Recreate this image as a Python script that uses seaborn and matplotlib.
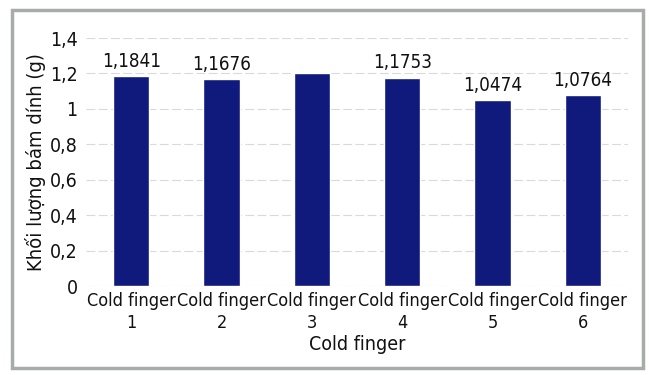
import matplotlib
matplotlib.use("Agg")
import matplotlib.pyplot as plt
import matplotlib.patches as mpatches
import seaborn as sns
import pandas as pd

categories = ["Cold finger\n1", "Cold finger\n2", "Cold finger\n3",
              "Cold finger\n4", "Cold finger\n5", "Cold finger\n6"]
values = [1.1841, 1.1676, 1.2, 1.1753, 1.0474, 1.0764]
value_labels = ["1,1841", "1,1676", "", "1,1753", "1,0474", "1,0764"]
y_ticks = [0, 0.2, 0.4, 0.6, 0.8, 1.0, 1.2, 1.4]
y_tick_labels = ["0", "0,2", "0,4", "0,6", "0,8", "1", "1,2", "1,4"]

sns.set_style("white")
plt.rcParams["font.family"] = ["DejaVu Sans"]
plt.rcParams["font.stretch"] = "condensed"

df = pd.DataFrame({"cat": categories, "val": values})

fig = plt.figure(figsize=(6.49, 3.75), dpi=100)
ax = fig.add_axes([86 / 649, 1 - 286 / 375, (628 - 86) / 649, (286 - 38) / 375])

sns.barplot(data=df, x="cat", y="val", color="#0f1a7c", width=0.4,
            saturation=1, ax=ax, zorder=3)

for bar, lab in zip(ax.patches, value_labels):
    if lab:
        ax.text(bar.get_x() + bar.get_width() / 2, bar.get_height() + 0.03, lab,
                ha="center", va="bottom", fontsize=13.5, color="#111111")

ax.set_ylim(0, 1.4)
ax.set_yticks(y_ticks)
ax.set_yticklabels(y_tick_labels, fontsize=14, color="#111111")
ax.tick_params(axis="x", labelsize=13, colors="#111111", length=0, pad=4)
ax.tick_params(axis="y", length=0, pad=6)
for t in ax.get_xticklabels():
    t.set_linespacing(1.35)
ax.yaxis.grid(True, color="#dadada", linestyle=(0, (8, 3)), linewidth=0.8, zorder=0)
ax.set_axisbelow(True)
for s in ax.spines.values():
    s.set_visible(False)

ax.set_ylabel("Khối lượng bám dính (g)", fontsize=14.5, color="#111111", labelpad=3)
ax.set_xlabel("Cold finger", fontsize=14, color="#111111", labelpad=2)

# outer frame around the figure
frame = mpatches.Rectangle((12 / 649, 1 - 368 / 375), (643 - 12) / 649, (368 - 10) / 375,
                           transform=fig.transFigure, fill=False,
                           edgecolor="#a8aca8", linewidth=2.5)
fig.patches.append(frame)

fig.savefig("out.png", dpi=100)
